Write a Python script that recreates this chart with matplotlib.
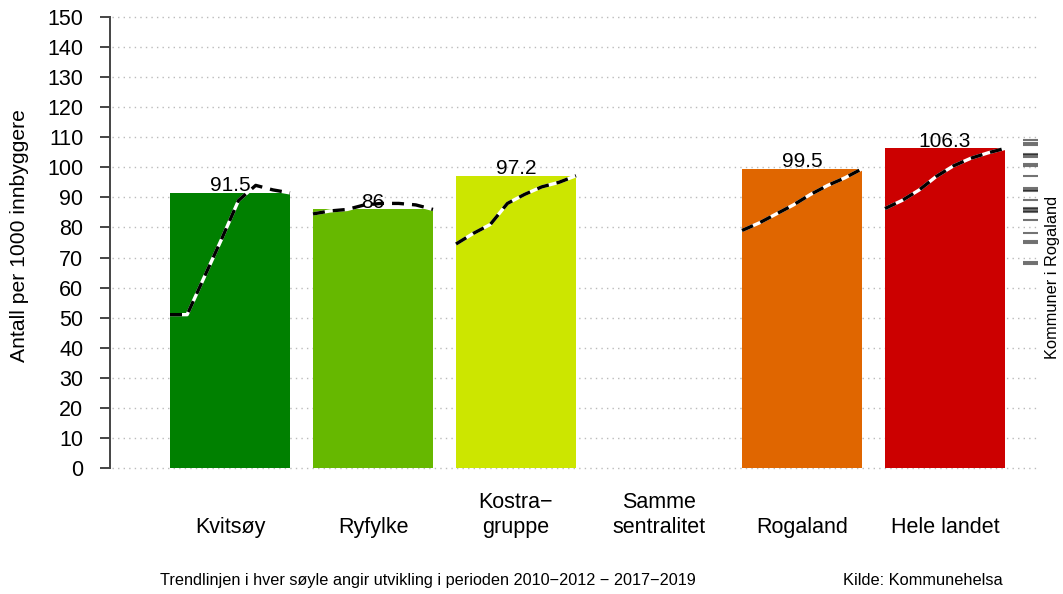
import matplotlib
matplotlib.use("Agg")
import matplotlib.pyplot as plt
import numpy as np

plt.rcParams['font.family'] = ['Liberation Sans', 'DejaVu Sans']

categories = ["Kvitsøy", "Ryfylke", "Kostra−\ngruppe", "Samme\nsentralitet", "Rogaland", "Hele landet"]
values = [91.5, 86, 97.2, None, 99.5, 106.3]
value_labels = ["91.5", "86", "97.2", "", "99.5", "106.3"]
colors = ["#008000", "#66b800", "#cce600", None, "#e06600", "#cc0000"]

trends = [
    [51, 51, 63.5, 76, 89, 94, 92.5, 91.5],
    [84.5, 85.5, 86, 87.5, 88, 88, 87.5, 86],
    [74.5, 78, 81, 88, 91, 93.5, 95, 97.2],
    None,
    [79, 81.5, 84.5, 87.5, 91, 94, 96.5, 99.5],
    [86.3, 89, 92.5, 97, 100.5, 103, 104.8, 106.3],
]

kommuner = [109, 108, 107.3, 104.5, 104, 103.5, 101, 100.5, 97, 93, 92.5, 92,
            89.3, 86.5, 86, 85.5, 85.3, 82.5, 78, 75.5, 75, 68.5, 67.8]

yticks = list(range(0, 151, 10))

W, H = 1063, 594
fig = plt.figure(figsize=(W / 100, H / 100), dpi=100)

px_left, px_right = 110, 1040
px_top, px_bottom = 17, 468
bar_w = 120 / 143
x0_px, unit = 230, 143
ax = fig.add_axes([px_left / W, 1 - px_bottom / H, (px_right - px_left) / W, (px_bottom - px_top) / H])
ax.set_xlim((px_left - x0_px) / unit, (px_right - x0_px) / unit)
ax.set_ylim(0, 150)

for yt in yticks:
    ax.plot([(112 - x0_px) / unit, (1038 - x0_px) / unit], [yt, yt], color="#bbbbbb",
            lw=1.0, linestyle=(0, (1, 3)), zorder=0, clip_on=False)

xs = np.arange(len(categories))
for i, (v, c) in enumerate(zip(values, colors)):
    if v is None:
        continue
    ax.bar(xs[i], v, width=bar_w, color=c, zorder=2)
    tr = trends[i]
    tx = np.linspace(xs[i] - bar_w / 2, xs[i] + bar_w / 2, len(tr))
    ax.plot(tx, tr, color="white", lw=2.4, zorder=3, solid_capstyle="butt")
    ax.plot(tx, tr, color="black", lw=2.4, zorder=4, dashes=(3.6, 2.4))
    ax.text(xs[i], v + 0.6, value_labels[i], ha="center", va="baseline", fontsize=15, zorder=5)

mx0 = (1023 - x0_px) / unit
mx1 = (1038 - x0_px) / unit
for k in kommuner:
    ax.plot([mx0, mx1], [k, k], color="black", alpha=0.55, lw=1.5, zorder=3,
            solid_capstyle="butt", clip_on=False)

for s in ["top", "right", "bottom"]:
    ax.spines[s].set_visible(False)
ax.spines["left"].set_color("#444444")
ax.spines["left"].set_linewidth(1.4)
ax.set_yticks(yticks)
ax.set_yticklabels([str(t) for t in yticks], fontsize=15.5)
ax.tick_params(axis="y", length=7.2, width=1.4, color="#444444", pad=12)
ax.set_xticks([])

def fx(x):
    return x / W

def fy(y):
    return 1 - y / H

for i, cat in enumerate(categories):
    lines = cat.split("\n")
    for j, line in enumerate(reversed(lines)):
        fig.text(fx(x0_px + i * unit), fy(533 - 25 * j), line, ha="center", va="baseline", fontsize=15.5)

fig.text(fx(20), fy(236), "Antall per 1000 innbyggere", rotation=90, ha="center", va="center", fontsize=15.2)
fig.text(fx(1053), fy(277), "Kommuner i Rogaland", rotation=90, ha="center", va="center", fontsize=11.8)
fig.text(fx(428), fy(585), "Trendlinjen i hver søyle angir utvikling i perioden 2010−2012 − 2017−2019",
         ha="center", va="baseline", fontsize=11.7)
fig.text(fx(923), fy(585), "Kilde: Kommunehelsa", ha="center", va="baseline", fontsize=11.8)

fig.savefig("out.png", dpi=100)
